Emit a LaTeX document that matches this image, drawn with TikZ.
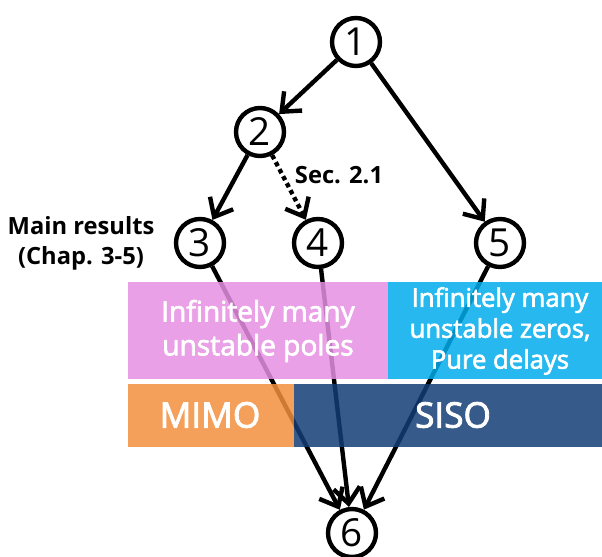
\documentclass[tikz,border=0pt]{standalone}
\usepackage{fontspec}
\setmainfont{Open Sans}
\newfontfamily\boxfont{Open Sans}[FakeBold=2.5]
\usetikzlibrary{arrows, arrows.meta}
\usetikzlibrary{positioning}
\usepackage{xcolor}

\definecolor{polepink}{RGB}{229,143,226}
\definecolor{zeroblue}{RGB}{0,172,235}
\definecolor{mimoorange}{RGB}{242,143,61}
\definecolor{sisoblue}{RGB}{19,61,117}

\tikzset{
  state/.style={draw, circle, line width=2.5pt, minimum size=0.96cm, inner sep=0pt,
    font=\fontsize{22}{22}\selectfont},
  link/.style={line width=2.5pt, -{Straight Barb[length=9pt,width=15pt]}},
  note/.style={font=\fontsize{13.5}{17}\selectfont\bfseries, align=center},
  band/.style={fill opacity=0.85, inner sep=0pt},
  bandtext/.style={text=white, align=center, inner sep=0pt}
}

\begin{document}
\begin{tikzpicture}[x=0.02cm, y=-0.02cm]
\useasboundingbox (0,0) rectangle (602,557);

\node[state] (n1) at (356,42) {1};
\node[state] (n2) at (260,132) {2};
\node[state] (n3) at (200,243) {3};
\node[state] (n4) at (318,243) {4};
\node[state] (n5) at (500,243) {5};
\node[state] (n6) at (352,533) {6};

\node[note] (sec) at (339,175) {Sec. 2.1};
\node[note] (main) at (81,243) {Main results\\(Chap. 3-5)};

\draw[link] (n1) -- (n2);
\draw[link] (n1) -- (n5);
\draw[link] (n2) -- (n3);
\draw[link, dotted] (n2) -- (n4);
\draw[link] (n3) -- (n6);
\draw[link] (n4) -- (n6);
\draw[link] (n5) -- (n6);

% upper row
\node[band, fill=polepink, minimum width=5.2cm, minimum height=1.94cm] (poles) at (258,330.5) {};
\node[band, fill=zeroblue, minimum width=4.28cm, minimum height=1.94cm] (zeros) at (495,330.5) {};
\node[bandtext, font=\boxfont\fontsize{16}{19.3}\selectfont] (polestext) at (258,331)
  {Infinitely many\\unstable poles};
\node[bandtext, font=\boxfont\fontsize{14.6}{17.6}\selectfont] (zerostext) at (500,331)
  {Infinitely many\\unstable zeros,\\Pure delays};

% lower row
\node[band, fill=mimoorange, minimum width=3.32cm, minimum height=1.26cm] (mimo) at (211,415.5) {};
\node[band, fill=sisoblue, minimum width=6.16cm, minimum height=1.26cm] (siso) at (448,415.5) {};
\node[bandtext, font=\boxfont\fontsize{20}{22}\selectfont] (mimotext) at (210,415) {MIMO};
\node[bandtext, font=\boxfont\fontsize{20}{22}\selectfont] (sisotext) at (453,415) {SISO};
\end{tikzpicture}
\end{document}
